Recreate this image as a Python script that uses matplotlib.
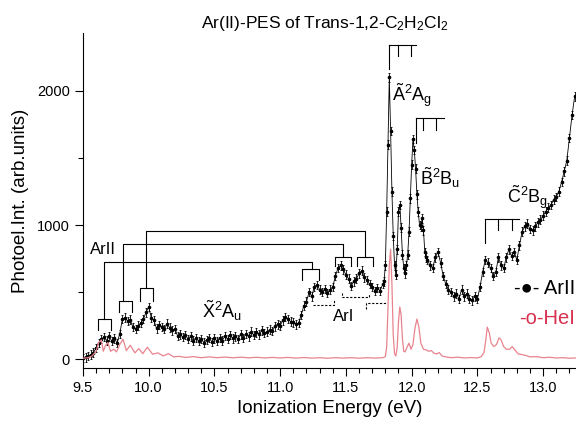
import numpy as np
import matplotlib
matplotlib.use('Agg')
import matplotlib.pyplot as plt
from matplotlib.ticker import MultipleLocator, FormatStrFormatter

plt.rcParams['font.family'] = ['Liberation Sans', 'DejaVu Sans']
plt.rcParams['mathtext.fontset'] = 'custom'
plt.rcParams['mathtext.rm'] = 'Liberation Sans'
plt.rcParams['mathtext.it'] = 'Liberation Sans:italic'

# ArII photoelectron spectrum (arb. units)
# segment 1: 9.50 .. 11.78 eV, step 0.02
arii_seg1 = [10, 15, 25, 35, 50, 85, 120, 150, 165, 140,
             170, 135, 155, 120, 190, 300, 310, 285, 295, 240,
             225, 250, 270, 300, 350, 390, 310, 290, 230, 255,
             240, 225, 265, 235, 215, 225, 175, 185, 165, 180,
             150, 170, 140, 160, 135, 150, 125, 145, 160, 130,
             155, 135, 160, 140, 175, 150, 180, 155, 170, 150,
             185, 160, 190, 170, 205, 180, 200, 185, 215, 195,
             205, 220, 210, 245, 260, 250, 290, 315, 300, 280,
             275, 260, 270, 330, 400, 430, 500, 470, 540, 555,
             520, 500, 525, 495, 520, 540, 620, 680, 700, 670,
             630, 600, 545, 580, 600, 640, 660, 610, 590, 560,
             540, 510, 530, 510, 560]
# segment 2: 11.79 .. 12.12 eV, step 0.01
arii_seg2 = [580, 700, 1100, 1600, 2100, 1700, 1250, 920, 700, 630,
             820, 1100, 1150, 980, 780, 680, 640, 700, 780, 950,
             1200, 1450, 1640, 1560, 1420, 1230, 1100, 1000, 990, 1050,
             960, 800, 760, 740]
# segment 3: 12.14 .. 13.24 eV, step 0.02
arii_seg3 = [700, 680, 760, 800, 720, 620, 560, 520, 500, 470,
             490, 450, 520, 470, 490, 450, 440, 470, 450, 540,
             650, 740, 720, 680, 620, 650, 760, 700, 680, 760,
             820, 770, 800, 740, 850, 950, 990, 1010, 970, 960,
             990, 1020, 1040, 1070, 1100, 1130, 1150, 1190, 1210, 1250,
             1320, 1400, 1480, 1650, 1820, 1960]
arii_err = 32

# HeI reference spectrum (eV, counts)
hei_points = [(9.50, 8), (9.54, 12), (9.57, 25), (9.60, 60), (9.62, 125), (9.64, 145),
              (9.655, 60), (9.67, 100), (9.69, 125), (9.71, 60), (9.735, 75), (9.755, 55),
              (9.78, 110), (9.805, 150), (9.83, 65), (9.86, 105), (9.895, 48), (9.925, 80),
              (9.955, 42), (9.99, 90), (10.03, 38), (10.07, 48), (10.11, 25), (10.15, 42),
              (10.19, 18), (10.23, 22), (10.28, 14), (10.34, 20), (10.40, 12), (10.46, 18),
              (10.52, 12), (10.58, 17), (10.64, 11), (10.70, 16), (10.76, 11), (10.82, 15),
              (10.88, 10), (10.94, 14), (11.00, 10), (11.06, 14), (11.12, 9), (11.18, 13),
              (11.24, 9), (11.30, 12), (11.36, 8), (11.42, 12), (11.48, 9), (11.54, 12),
              (11.60, 8), (11.66, 12), (11.72, 9), (11.78, 12), (11.80, 20), (11.81, 90),
              (11.82, 380), (11.83, 700), (11.84, 820), (11.85, 560), (11.86, 180), (11.87, 40),
              (11.88, 25), (11.89, 90), (11.90, 280), (11.91, 390), (11.92, 330), (11.93, 150),
              (11.94, 60), (11.95, 55), (11.965, 90), (11.98, 120), (11.995, 75), (12.01, 110),
              (12.025, 230), (12.04, 300), (12.055, 240), (12.07, 120), (12.09, 75), (12.11, 70),
              (12.13, 60), (12.15, 65), (12.17, 45), (12.19, 40), (12.21, 50), (12.23, 25),
              (12.26, 18), (12.30, 12), (12.35, 16), (12.40, 10), (12.45, 13), (12.50, 10),
              (12.53, 20), (12.55, 50), (12.565, 150), (12.575, 240), (12.59, 200), (12.605, 120),
              (12.625, 95), (12.645, 110), (12.665, 160), (12.68, 145), (12.70, 95), (12.72, 75),
              (12.745, 75), (12.765, 95), (12.785, 70), (12.81, 40), (12.84, 35), (12.87, 28),
              (12.90, 18), (12.95, 20), (13.00, 12), (13.05, 15), (13.10, 10), (13.15, 12),
              (13.20, 8), (13.25, 10)]

# ArII progressions: (left stem eV, right stem eV, line height)
arii_links = [(9.662, 11.239, 725), (9.807, 11.475, 860), (9.977, 11.645, 958)]
# bracket ends (left leg, right leg, top, bottom)
arii_left = [(9.616, 9.713, 301, 216), (9.774, 9.870, 433, 353), (9.936, 10.03, 528, 433)]
arii_right = [(11.168, 11.297, 672, 590), (11.416, 11.536, 763, 695), (11.586, 11.703, 763, 695)]
# vibrational combs: (start, end, height, [(pos, tip)])
combs = [(11.83, 12.03, 2343, [(11.83, 2162), (11.90, 2261), (11.997, 2261)]),
         (12.03, 12.245, 1801, [(12.03, 1610), (12.09, 1709), (12.187, 1709)]),
         (12.557, 12.818, 1045, [(12.557, 863), (12.658, 963), (12.76, 963)])]

e1 = np.linspace(9.50, 11.78, len(arii_seg1))
e2 = np.linspace(11.79, 12.12, len(arii_seg2))
e3 = np.linspace(12.14, 13.24, len(arii_seg3))
arii_e = np.concatenate([e1, e2, e3])
arii_i = np.array(arii_seg1 + arii_seg2 + arii_seg3)
hei_e = [p[0] for p in hei_points]
hei_i = [p[1] for p in hei_points]

fig = plt.figure(figsize=(5.76, 4.25), dpi=100)
ax = fig.add_axes([0.144, 0.135, 0.856, 0.787])

ax.errorbar(arii_e, arii_i, yerr=arii_err, fmt='-o', color='k', ms=1.6, lw=0.6,
            elinewidth=0.6, capsize=1.0, capthick=0.6, zorder=2)
ax.plot(hei_e, hei_i, color='#e8848e', lw=0.9, zorder=3)

lk = dict(color='k', lw=0.8)
for (l, r, top, bot), (l2, r2, top2, bot2), (s1, s2, h) in zip(arii_left, arii_right, arii_links):
    ax.plot([l, l, r, r], [bot, top, top, bot], **lk)
    ax.plot([l2, l2, r2, r2], [bot2, top2, top2, bot2], **lk)
    ax.plot([s1, s1, s2, s2], [top, h, h, top2], **lk)

for start, end, h, tips in combs:
    ax.plot([start, end], [h, h], **lk)
    for pos, tip in tips:
        ax.plot([pos, pos], [h, tip], **lk)

dk = dict(color='k', lw=0.8, ls=(0, (2, 1.5)))
ax.plot([11.25, 11.41, 11.41], [408, 408, 445], **dk)
ax.plot([11.467, 11.467, 11.675, 11.675], [495, 465, 465, 495], **dk)
ax.plot([11.65, 11.65, 11.81], [378, 416, 416], **dk)

ax.text(9.65, 818, 'ArII', ha='center', va='center', fontsize=12)
ax.text(11.48, 316, 'ArI', ha='center', va='center', fontsize=12)
ax.text(10.557, 365, r'$\tilde{\mathrm{X}}^{2}\mathrm{A}_{\mathrm{u}}$', ha='center', va='center', fontsize=13)
ax.text(12.0, 1970, r'$\tilde{\mathrm{A}}^{2}\mathrm{A}_{\mathrm{g}}$', ha='center', va='center', fontsize=13)
ax.text(12.215, 1350, r'$\tilde{\mathrm{B}}^{2}\mathrm{B}_{\mathrm{u}}$', ha='center', va='center', fontsize=13)
ax.text(12.884, 1209, r'$\tilde{\mathrm{C}}^{2}\mathrm{B}_{\mathrm{g}}$', ha='center', va='center', fontsize=13)

ax.text(13.245, 530, '-●- ArII', ha='right', va='center', fontsize=14.5, color='k')
ax.text(13.245, 306, '-o-HeI', ha='right', va='center', fontsize=14.5, color='#d8304f')

ax.set_xlim(9.5, 13.25)
ax.set_ylim(-62, 2430)
ax.spines['top'].set_visible(False)
ax.spines['right'].set_visible(False)
ax.xaxis.set_major_locator(MultipleLocator(0.5))
ax.xaxis.set_minor_locator(MultipleLocator(0.1))
ax.xaxis.set_major_formatter(FormatStrFormatter('%.1f'))
ax.yaxis.set_major_locator(MultipleLocator(1000))
ax.yaxis.set_minor_locator(MultipleLocator(500))
ax.tick_params(which='major', length=6, width=0.8, labelsize=10.5)
ax.tick_params(which='minor', length=3.5, width=0.8)

ax.set_xlabel('Ionization Energy (eV)', fontsize=13.5, labelpad=4)
ax.set_ylabel('Photoel.Int. (arb.units)', fontsize=13.5, labelpad=6)
ax.set_title(r'Ar(II)-PES of Trans-1,2-C$_2$H$_2$Cl$_2$', fontsize=12.5, pad=4, x=0.49)

fig.savefig('out.png', dpi=100)
